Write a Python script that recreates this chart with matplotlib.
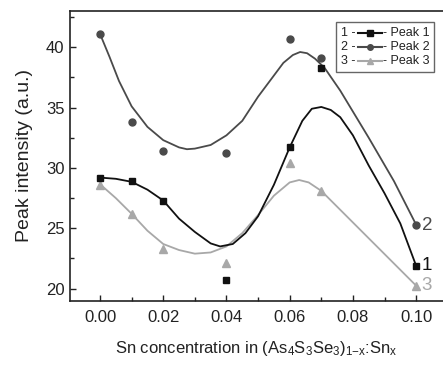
import matplotlib
matplotlib.use("Agg")
import matplotlib.pyplot as plt
from matplotlib.lines import Line2D
from matplotlib.patches import Rectangle

plt.rcParams["font.family"] = ["Liberation Sans", "DejaVu Sans"]
plt.rcParams["mathtext.fontset"] = "custom"
plt.rcParams["mathtext.rm"] = "Liberation Sans"
plt.rcParams["mathtext.it"] = "Liberation Sans"

# measured points
sn = [0.00, 0.01, 0.02, 0.04, 0.06, 0.07, 0.10]
peak1 = [29.2, 28.9, 27.3, 20.7, 31.7, 38.3, 21.9]
peak2 = [41.1, 33.8, 31.4, 31.2, 40.65, 39.1, 25.25]
peak3 = [28.6, 26.2, 23.3, 22.15, 30.4, 28.1, 20.25]

# guide-to-the-eye curves
fit1_x = [0.000, 0.005, 0.010, 0.015, 0.020, 0.025, 0.030, 0.035, 0.038, 0.042,
          0.046, 0.050, 0.055, 0.060, 0.064, 0.067, 0.070, 0.073, 0.076, 0.080,
          0.085, 0.090, 0.095, 0.100]
fit1_y = [29.2, 29.1, 28.85, 28.2, 27.3, 25.8, 24.7, 23.75, 23.5, 23.7,
          24.6, 26.0, 28.6, 31.7, 33.9, 34.9, 35.05, 34.8, 34.2, 32.7,
          30.2, 27.9, 25.4, 21.9]
fit2_x = [0.000, 0.003, 0.006, 0.010, 0.015, 0.020, 0.025, 0.0275, 0.030, 0.035,
          0.040, 0.045, 0.050, 0.054, 0.058, 0.061, 0.0633, 0.0655, 0.068, 0.071,
          0.076, 0.085, 0.093, 0.100]
fit2_y = [41.1, 39.2, 37.2, 35.1, 33.4, 32.3, 31.7, 31.55, 31.6, 31.9,
          32.7, 33.9, 35.9, 37.3, 38.7, 39.35, 39.6, 39.5, 39.05, 38.3,
          36.4, 32.5, 28.9, 25.3]
fit3_x = [0.000, 0.005, 0.010, 0.015, 0.020, 0.025, 0.030, 0.035, 0.040, 0.045,
          0.050, 0.055, 0.060, 0.063, 0.066, 0.070, 0.100]
fit3_y = [28.65, 27.5, 26.2, 24.8, 23.7, 23.2, 22.9, 23.0, 23.5, 24.6,
          26.1, 27.7, 28.8, 29.0, 28.8, 28.1, 20.25]

names = ["Peak 1", "Peak 2", "Peak 3"]
tags = ["1", "2", "3"]
colors = ["#111111", "#4a4a4a", "#a8a8a8"]
markers = ["s", "o", "^"]
msizes = [4.6, 5.0, 5.2]

points = [peak1, peak2, peak3]
fits = [(fit1_x, fit1_y), (fit2_x, fit2_y), (fit3_x, fit3_y)]

fig = plt.figure(figsize=(4.43, 3.65), dpi=100)
ax = fig.add_axes([0.158, 0.176, 0.842, 0.794])

for i in [2, 1, 0]:
    fx, fy = fits[i]
    ax.plot(fx, fy, color=colors[i], lw=1.3, zorder=2, solid_joinstyle="round")
for i in [2, 1, 0]:
    ax.plot(sn, points[i], linestyle="none", marker=markers[i], ms=msizes[i],
            color=colors[i], zorder=3)
    ax.annotate(tags[i], (sn[-1], points[i][-1]), xytext=(4, 0),
                textcoords="offset points", va="center", ha="left",
                fontsize=13.5, color=colors[i], annotation_clip=False)

ax.set_xlim(-0.0095, 0.1085)
ax.set_ylim(19.0, 43.0)
ax.set_xticks([0.00, 0.02, 0.04, 0.06, 0.08, 0.10])
ax.set_xticks([0.01, 0.03, 0.05, 0.07, 0.09], minor=True)
ax.set_yticks([20, 25, 30, 35, 40])
ax.set_yticks([22.5, 27.5, 32.5, 37.5, 42.5], minor=True)
ax.set_xticklabels(["0.00", "0.02", "0.04", "0.06", "0.08", "0.10"])
ax.tick_params(axis="both", which="major", direction="in", length=4, width=1,
               labelsize=12, colors="#222222")
ax.tick_params(axis="both", which="minor", direction="in", length=3, width=1,
               colors="#222222")
ax.tick_params(axis="x", pad=7)
ax.tick_params(axis="y", pad=4)

for s in ["left", "bottom", "top"]:
    ax.spines[s].set_linewidth(1.2)
    ax.spines[s].set_color("#222222")
ax.spines["right"].set_visible(False)

ax.set_xlabel(r"Sn concentration in (As$_4$S$_3$Se$_3$)$_{1\mathrm{-x}}$:Sn$_\mathrm{x}$",
              fontsize=12, color="#222222", labelpad=10)
ax.set_ylabel("Peak intensity (a.u.)", fontsize=14, color="#222222", labelpad=9)

# Origin-style legend box
ax.add_patch(Rectangle((0.713, 0.790), 0.263, 0.173, transform=ax.transAxes,
                       facecolor="white", edgecolor="#666666", lw=1.0, zorder=4))
rows = [0.925, 0.877, 0.828]
for i in range(3):
    y = rows[i]
    ax.text(0.727, y, tags[i] + " -", transform=ax.transAxes, fontsize=9,
            va="center", ha="left", color="#222222", zorder=5)
    ax.add_line(Line2D([0.772, 0.836], [y, y], transform=ax.transAxes,
                       color=colors[i], lw=1.5, zorder=5))
    ax.add_line(Line2D([0.804], [y], transform=ax.transAxes, color=colors[i],
                       marker=markers[i], ms=4, linestyle="none", zorder=6))
    ax.text(0.840, y, "- " + names[i], transform=ax.transAxes, fontsize=9,
            va="center", ha="left", color="#222222", zorder=5)

fig.savefig("out.png", dpi=100)
